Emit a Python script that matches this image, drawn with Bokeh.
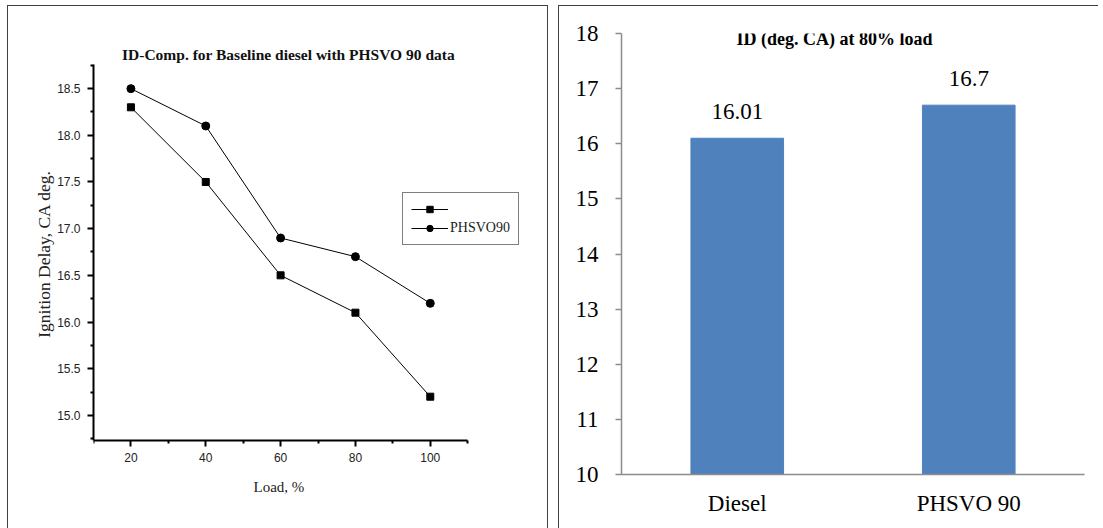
from bokeh.plotting import figure
from bokeh.layouts import row, column
from bokeh.models import (FixedTicker, Range1d, FactorRange, Legend, LegendItem, LinearAxis,
                          Label, Title, Spacer, NumeralTickFormatter, GlobalInlineStyleSheet)
from bokeh.core.properties import value
from bokeh.embed import file_html
from bokeh.resources import INLINE

# ---------------- data ----------------
load = [20, 40, 60, 80, 100]
diesel_id = [18.3, 17.5, 16.5, 16.1, 15.2]
phsvo_id = [18.5, 18.1, 16.9, 16.7, 16.2]
x_ticks = [20, 40, 60, 80, 100]
x_minor = [10, 30, 50, 70, 90, 110]
y_ticks = [15.0, 15.5, 16.0, 16.5, 17.0, 17.5, 18.0, 18.5]
y_minor = [14.75, 15.25, 15.75, 16.25, 16.75, 17.25, 17.75, 18.25, 18.75]
series_names = ["", "PHSVO90"]

bar_cats = ["Diesel", "PHSVO 90"]
bar_vals = [16.1, 16.7]
bar_labels = ["16.01", "16.7"]
bar_ticks = [10, 11, 12, 13, 14, 15, 16, 17, 18]

SERIF = "Liberation Serif"
SANS = "Liberation Sans"
BORDER = "1px solid #404040"

TOP, BOTTOM, FRAME_H = 27, 55, 440
X_BOUNDS = (x_minor[0], x_minor[-1])
Y_BOUNDS = (14.7316, 18.758)

# ---------------- left chart ----------------
p1 = figure(frame_width=437, frame_height=FRAME_H, output_backend="svg", toolbar_location=None,
            x_range=Range1d(10, 127.32), y_range=Range1d(14.3666, 19.0905),
            x_axis_location=None,
            min_border_left=85, min_border_right=17, min_border_top=TOP, min_border_bottom=BOTTOM)
p1.styles = {"border-left": BORDER, "border-top": BORDER, "border-right": BORDER}
p1.outline_line_color = None
p1.grid.visible = False

# x-axis title, right under the data area
p1.add_layout(Title(text="Load, %", align="left", offset=160, standoff=7,
                    vertical_align="middle", text_font=SERIF, text_font_size="15px",
                    text_font_style="normal", text_color="#222222"), "below")

# tick axis drawn at the bottom of the data area
xtick_axis = LinearAxis(ticker=FixedTicker(ticks=x_ticks, minor_ticks=x_minor),
                        bounds=X_BOUNDS, fixed_location=Y_BOUNDS[0])
p1.add_layout(xtick_axis, "below")

for ax in (xtick_axis, p1.yaxis[0]):
    ax.axis_line_width = 2
    ax.axis_line_color = "black"
    ax.major_tick_line_width = 2
    ax.minor_tick_line_width = 2
    ax.major_tick_out = 6
    ax.major_tick_in = 0
    ax.minor_tick_out = 3
    ax.minor_tick_in = 0
    ax.major_label_text_font = SANS
    ax.major_label_text_font_size = "12px"
    ax.major_label_text_color = "#222222"
    ax.major_label_standoff = 7
    ax.axis_label_text_font = SERIF
    ax.axis_label_text_font_style = "normal"
    ax.axis_label_text_color = "#222222"

p1.yaxis.ticker = FixedTicker(ticks=y_ticks, minor_ticks=y_minor)
p1.yaxis.bounds = Y_BOUNDS
p1.yaxis.formatter = NumeralTickFormatter(format="0.0")
p1.yaxis.axis_label = "Ignition Delay, CA deg."
p1.yaxis.axis_label_text_font_size = "17.5px"
p1.yaxis.axis_label_standoff = 0

l1 = p1.line(load, diesel_id, line_color="black", line_width=1)
m1 = p1.scatter(load, diesel_id, marker="square", size=7, fill_color="black", line_color="black")
l2 = p1.line(load, phsvo_id, line_color="black", line_width=1)
m2 = p1.scatter(load, phsvo_id, marker="circle", size=8, fill_color="black", line_color="black")

legend = Legend(items=[LegendItem(label=value(series_names[0]), renderers=[l1, m1]),
                       LegendItem(label=value(series_names[1]), renderers=[l2, m2])],
                location=(309, 229), orientation="vertical")
legend.border_line_color = "black"
legend.border_line_width = 1
legend.background_fill_color = "white"
legend.background_fill_alpha = 1
legend.padding = 8
legend.margin = 0
legend.spacing = 3
legend.glyph_width = 37
legend.glyph_height = 16
legend.label_height = 16
legend.label_standoff = 2
legend.label_text_font = SERIF
legend.label_text_font_size = "14px"
legend.label_text_color = "#222222"
p1.add_layout(legend, "center")

p1.add_layout(Label(x=195, y=420, x_units="screen", y_units="screen",
                    text="ID-Comp. for Baseline diesel with PHSVO 90 data",
                    text_align="center", text_baseline="alphabetic", text_font=SERIF,
                    text_font_size="15.5px", text_font_style="bold", text_color="#111111"))

# ---------------- right chart ----------------
p2 = figure(frame_width=462, frame_height=FRAME_H, output_backend="svg", toolbar_location=None,
            x_range=FactorRange(factors=bar_cats), y_range=Range1d(10, 18),
            min_border_left=62, min_border_right=15, min_border_top=TOP, min_border_bottom=BOTTOM)
p2.styles = {"border-left": BORDER, "border-top": BORDER}
p2.outline_line_color = None
p2.grid.visible = False

p2.vbar(x=bar_cats, top=bar_vals, bottom=10, width=0.4, fill_color="#4F81BD",
        line_color="#4F81BD")
p2.text(x=bar_cats, y=bar_vals, text=bar_labels, text_align="center",
        text_baseline="middle", y_offset=-27, text_font=value(SERIF),
        text_font_size="23px", text_color="black")

for ax in (p2.xaxis[0], p2.yaxis[0]):
    ax.axis_line_color = "#8c8c8c"
    ax.axis_line_width = 1.5
    ax.major_tick_line_color = "#8c8c8c"
    ax.major_tick_line_width = 1.5
    ax.minor_tick_line_color = None
    ax.major_label_text_font = SERIF
    ax.major_label_text_font_size = "23px"
    ax.major_label_text_color = "black"

p2.yaxis.ticker = FixedTicker(ticks=bar_ticks)
p2.yaxis.major_tick_out = 6
p2.yaxis.major_tick_in = 0
p2.yaxis.major_label_standoff = 17
p2.xaxis.major_tick_out = 0
p2.xaxis.major_tick_in = 0
p2.xaxis.major_label_standoff = 16

p2.add_layout(Label(x=213, y=435.5, x_units="screen", y_units="screen",
                    text="ID (deg. CA) at 80% load", text_align="center",
                    text_baseline="middle", text_font=SERIF, text_font_size="18px",
                    text_font_style="bold", text_color="black"))

layout = column(Spacer(height=5),
                row(Spacer(width=7), p1, Spacer(width=10), p2))
layout.stylesheets = [GlobalInlineStyleSheet(css="html, body { overflow: hidden; }")]
open("out.html", "w").write(file_html(layout, INLINE))
